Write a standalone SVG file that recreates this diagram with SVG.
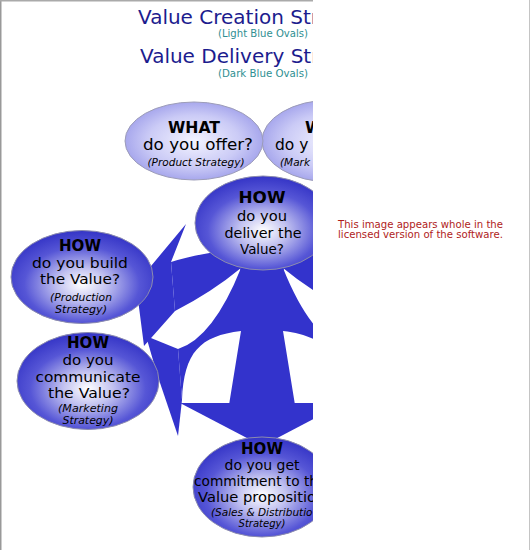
<svg xmlns="http://www.w3.org/2000/svg" xmlns:xlink="http://www.w3.org/1999/xlink" width="531" height="550" viewBox="0 0 531 550">
<defs>
<style>
.t{font-family:"DejaVu Sans","Liberation Sans",sans-serif;fill:#000;text-anchor:middle}
.s{text-anchor:start}
.b{font-weight:bold;font-size:16px}
.m{font-size:14px}
.c{font-size:13.5px}
.i{font-style:italic;font-size:10.5px}
.title{font-family:"DejaVu Sans","Liberation Sans",sans-serif;font-size:20px;fill:#1c1c8e}
.sub{font-family:"DejaVu Sans","Liberation Sans",sans-serif;font-size:10px;fill:#2f8f92;text-anchor:middle}
.light{fill:url(#lg);stroke:#9c9cb8;stroke-width:1}
.dark{fill:url(#dg);stroke:#8c8cae;stroke-width:1}
.arrow{fill:#3333cc}
.note{font-family:"DejaVu Sans","Verdana",sans-serif;font-size:10px;fill:#b01c1c}
</style>
<radialGradient id="lg" cx="50%" cy="50%" r="55%">
<stop offset="0" stop-color="#f3f3ff"/>
<stop offset="0.6" stop-color="#cbcbf6"/>
<stop offset="1" stop-color="#9d9dea"/>
</radialGradient>
<radialGradient id="dg" cx="50%" cy="58%" r="58%">
<stop offset="0" stop-color="#ffffff"/>
<stop offset="0.3" stop-color="#c2c2f0"/>
<stop offset="0.7" stop-color="#5656d6"/>
<stop offset="1" stop-color="#3434c6"/>
</radialGradient>
<clipPath id="clip"><rect x="0" y="0" width="313" height="550"/></clipPath>
<g id="half" class="arrow">
<path d="M240,250 L262,250 L262,405 L229,405 L241,331 Z"/>
<path d="M180,403 L262,403 L262,446 Z"/>
<path d="M171,262 Q190,256 215,252 L245,248 L245,266 L241,268 Q212,292 175,311 Z"/>
<path d="M186,224 L136,284 L144,346 L175,311 L171,262 Z"/>
<path d="M178,349 Q213,338 241,268 L241,331 C200,336 184,352 182,400 Z"/>
<path d="M146,336 L157,374 L178,436 L182,400 L178,349 Z"/>
</g>
</defs>
<rect x="0" y="0" width="531" height="550" fill="#ffffff"/>
<g id="frame" fill="none">
<line x1="0.75" y1="0" x2="0.75" y2="550" stroke="#999999" stroke-width="1.5"/>
<line x1="0" y1="0.75" x2="313" y2="0.75" stroke="#aaaaaa" stroke-width="1.5"/>
<line x1="529.5" y1="0" x2="529.5" y2="550" stroke="#c4c4c4" stroke-width="1"/>
</g>
<g clip-path="url(#clip)">
<g id="titles">
<text class="title" x="138" y="23.5">Value Creation Str</text>
<text class="sub" x="263" y="37" textLength="90" lengthAdjust="spacingAndGlyphs">(Light Blue Ovals)</text>
<text class="title" x="140" y="63">Value Delivery Str</text>
<text class="sub" x="263" y="76.5" textLength="90" lengthAdjust="spacingAndGlyphs">(Dark Blue Ovals)</text>
</g>
<g id="node-market">
<ellipse class="light" cx="331" cy="141" rx="69" ry="41"/>
<text class="t b s" x="305" y="133">W</text>
<text class="t s" style="font-size:15.5px" x="275" y="150">do y</text>
<text class="t i s" x="280" y="166">(Mark</text>
</g>
<g id="node-what">
<ellipse class="light" cx="194" cy="141" rx="69" ry="39"/>
<text class="t b" x="194" y="133" textLength="52" lengthAdjust="spacingAndGlyphs">WHAT</text>
<text class="t" style="font-size:15.5px" x="198" y="150" textLength="110" lengthAdjust="spacingAndGlyphs">do you offer?</text>
<text class="t i" x="196" y="166" textLength="97" lengthAdjust="spacingAndGlyphs">(Product Strategy)</text>
</g>
<g id="connectors">
<use xlink:href="#half" href="#half"/>
<use xlink:href="#half" href="#half" transform="translate(524,0) scale(-1,1)"/>
</g>
<g id="node-deliver">
<ellipse class="dark" cx="263" cy="223" rx="68" ry="47"/>
<text class="t b" x="262" y="203" textLength="47" lengthAdjust="spacingAndGlyphs">HOW</text>
<text class="t m" x="262" y="221" textLength="50" lengthAdjust="spacingAndGlyphs">do you</text>
<text class="t m" x="263" y="238" textLength="77" lengthAdjust="spacingAndGlyphs">deliver the</text>
<text class="t m" x="262" y="254" textLength="44" lengthAdjust="spacingAndGlyphs">Value?</text>
</g>
<g id="node-build">
<ellipse class="dark" cx="82" cy="277" rx="71" ry="46.5"/>
<text class="t b" x="80" y="250.5" textLength="42" lengthAdjust="spacingAndGlyphs">HOW</text>
<text class="t m" x="80" y="267.5" textLength="96" lengthAdjust="spacingAndGlyphs">do you build</text>
<text class="t m" x="80" y="283.5" textLength="80" lengthAdjust="spacingAndGlyphs">the Value?</text>
<text class="t i" x="81" y="301" textLength="62" lengthAdjust="spacingAndGlyphs">(Production</text>
<text class="t i" x="81" y="313" textLength="52" lengthAdjust="spacingAndGlyphs">Strategy)</text>
</g>
<g id="node-communicate">
<ellipse class="dark" cx="88" cy="381" rx="71" ry="48.5"/>
<text class="t b" x="88" y="348" textLength="42" lengthAdjust="spacingAndGlyphs">HOW</text>
<text class="t m" x="88" y="365" textLength="51" lengthAdjust="spacingAndGlyphs">do you</text>
<text class="t m" x="88" y="382" textLength="105" lengthAdjust="spacingAndGlyphs">communicate</text>
<text class="t m" x="89" y="398" textLength="82" lengthAdjust="spacingAndGlyphs">the Value?</text>
<text class="t i" x="88" y="412" textLength="60" lengthAdjust="spacingAndGlyphs">(Marketing</text>
<text class="t i" x="88" y="424" textLength="51" lengthAdjust="spacingAndGlyphs">Strategy)</text>
</g>
<g id="node-commit">
<ellipse class="dark" cx="262" cy="487" rx="69" ry="50"/>
<text class="t b" x="262" y="454" textLength="42" lengthAdjust="spacingAndGlyphs">HOW</text>
<text class="t c" x="262" y="470" textLength="75" lengthAdjust="spacingAndGlyphs">do you get</text>
<text class="t c s" x="194" y="486" textLength="124" lengthAdjust="spacingAndGlyphs">commitment to th</text>
<text class="t c s" x="198" y="502" textLength="118" lengthAdjust="spacingAndGlyphs">Value propositio</text>
<text class="t i s" x="211" y="516">(Sales &amp; Distributio</text>
<text class="t i" x="262" y="527" textLength="47" lengthAdjust="spacingAndGlyphs">Strategy)</text>
</g>
</g>
<g id="notice">
<text class="note" x="338" y="227.7" textLength="165" lengthAdjust="spacingAndGlyphs">This image appears whole in the</text>
<text class="note" x="338" y="237.7" textLength="165" lengthAdjust="spacingAndGlyphs">licensed version of the software.</text>
</g>
</svg>
